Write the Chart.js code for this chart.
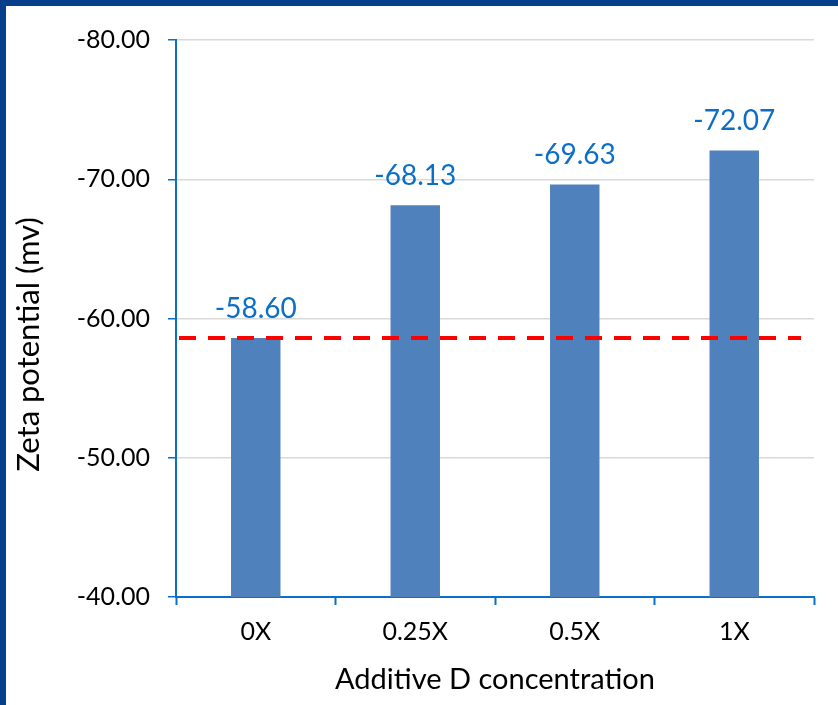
<!DOCTYPE html>
<html>
<head>
<meta charset="utf-8">
<script src="https://cdn.jsdelivr.net/npm/chart.js@4/dist/chart.umd.min.js"></script>
<style>
  html, body { margin: 0; padding: 0; background: #fff; }
  #wrap { width: 838px; height: 705px; }
</style>
</head>
<body>
<div id="wrap"><canvas id="zetaChart" width="838" height="705"></canvas></div>
<script>
// ===== data =====
const categories = ['0X', '0.25X', '0.5X', '1X'];
const zetaValues = [-58.60, -68.13, -69.63, -72.07];
const yTicks = [-80, -70, -60, -50, -40];
const refLine = -58.60;   // dashed red reference = 0X value
const yTitle = 'Zeta potential (mv)';

const FONT = 'Lato, "Open Sans", sans-serif';
const AXIS_BLUE = '#0B6FC6';

// frame (dark blue band on top and left) + y title, which sits a bit below the plot middle
const framePlugin = {
  id: 'frame',
  beforeDraw(chart) {
    const ctx = chart.ctx;
    ctx.save();
    ctx.fillStyle = '#fff';
    ctx.fillRect(0, 0, chart.width, chart.height);
    ctx.fillStyle = '#063F8C';
    ctx.fillRect(0, 0, chart.width, 6);
    ctx.fillRect(0, 0, 6, chart.height);
    ctx.restore();
  },
  afterDraw(chart) {
    const ctx = chart.ctx;
    const area = chart.chartArea;
    ctx.save();
    ctx.translate(29, (area.top + area.bottom) / 2 + 26);
    ctx.rotate(-Math.PI / 2);
    ctx.font = '31px ' + FONT;
    ctx.fillStyle = '#000';
    ctx.textAlign = 'center';
    ctx.textBaseline = 'middle';
    ctx.fillText(yTitle, 0, 0);
    ctx.restore();
  }
};

// value labels above bars + dashed reference line
const labelsPlugin = {
  id: 'barLabels',
  afterDatasetsDraw(chart) {
    const ctx = chart.ctx;
    const meta = chart.getDatasetMeta(0);
    const y = chart.scales.y;
    const area = chart.chartArea;

    ctx.save();
    ctx.font = '28px ' + FONT;
    ctx.fillStyle = '#0B6FC6';
    ctx.textAlign = 'center';
    ctx.textBaseline = 'alphabetic';
    meta.data.forEach((bar, i) => {
      ctx.fillText(zetaValues[i].toFixed(2), bar.x, bar.y - 20);
    });

    // red dashed line
    const ly = y.getPixelForValue(refLine);
    ctx.strokeStyle = '#FF0000';
    ctx.lineWidth = 4;
    ctx.setLineDash([17, 12]);
    ctx.beginPath();
    ctx.moveTo(area.left + 3, ly);
    ctx.lineTo(area.right - 13, ly);
    ctx.stroke();
    ctx.restore();
  }
};

new Chart(document.getElementById('zetaChart'), {
  type: 'bar',
  data: {
    labels: categories,
    datasets: [{
      data: zetaValues,
      backgroundColor: '#4F81BD',
      borderWidth: 0,
      categoryPercentage: 1,
      barPercentage: 0.31
    }]
  },
  options: {
    responsive: false,
    animation: false,
    devicePixelRatio: 1,
    layout: { padding: { left: 6, top: 40, right: 24, bottom: 0 } },
    plugins: {
      legend: { display: false },
      tooltip: { enabled: false }
    },
    scales: {
      x: {
        afterFit(scale) { scale.height = 108; },
        border: { color: AXIS_BLUE, width: 2 },
        grid: {
          offset: true,
          drawOnChartArea: false,
          drawTicks: true,
          tickLength: 8,
          tickColor: AXIS_BLUE,
          tickWidth: 2
        },
        ticks: {
          color: '#000',
          font: { family: FONT, size: 25 },
          padding: 12
        },
        title: {
          display: true,
          text: 'Additive D concentration',
          color: '#000',
          font: { family: FONT, size: 29 },
          padding: { top: 0, bottom: 8 }
        }
      },
      y: {
        reverse: true,
        min: -80,
        max: -40,
        afterFit(scale) { scale.width = 170; },
        afterBuildTicks(scale) {
          scale.ticks = yTicks.map(v => ({ value: v }));
        },
        border: { color: AXIS_BLUE, width: 2 },
        grid: {
          color: '#D9D9D9',
          lineWidth: 1.5,
          drawTicks: true,
          tickLength: 8,
          tickColor: AXIS_BLUE,
          tickWidth: 1.5
        },
        ticks: {
          color: '#000',
          font: { family: FONT, size: 25 },
          padding: 18,
          callback: v => Number(v).toFixed(2)
        },
        title: { display: false }
      }
    }
  },
  plugins: [framePlugin, labelsPlugin]
});
</script>
</body>
</html>
